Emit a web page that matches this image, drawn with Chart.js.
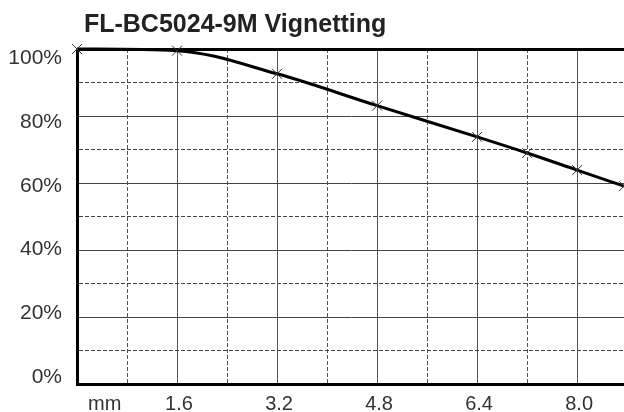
<!DOCTYPE html>
<html>
<head>
<meta charset="utf-8">
<title>FL-BC5024-9M Vignetting</title>
<script src="https://cdn.jsdelivr.net/npm/chart.js@4/dist/chart.umd.min.js"></script>
<style>
body { margin: 0; background: #fff; }
</style>
</head>
<body>
<canvas id="vignetteChart" width="624" height="412"></canvas>
<script>
var chartTitle = "FL-BC5024-9M Vignetting";

// image height (mm) against relative illumination (%)
var imageHeight = [0, 1.6, 3.2, 4.8, 6.4, 7.2, 8.0, 8.75];
var illumination = [100, 99.5, 92.6, 83.1, 73.8, 69.0, 63.9, 59.1];

var xTicks = [0.41, 0.8, 1.6, 2.4, 3.2, 4.0, 4.8, 5.6, 6.4, 7.2, 8.0];
var xTickLabels = ["mm", "", "1.6", "", "3.2", "", "4.8", "", "6.4", "", "8.0"];
var xDashed = [0.8, 2.4, 4.0, 5.6, 7.2];

var yTicks = [0, 10, 20, 30, 40, 50, 60, 70, 80, 90, 100];
var yDashed = [10, 30, 50, 70, 90];
var yLabelValues = [0, 20, 40, 60, 80, 100];
var yTickLabels = ["0%", "20%", "40%", "60%", "80%", "100%"];

var fontFamily = "'Liberation Sans', Arial, Helvetica, sans-serif";

function toTicks(list) {
    return list.map(function (v) { return { value: v }; });
}

function drawChart() {
    var points = [];
    for (var i = 0; i < imageHeight.length; i++) {
        points.push({ x: imageHeight[i], y: illumination[i] });
    }

    var ctx = document.getElementById("vignetteChart").getContext("2d");

    var vignetteChart = new Chart(ctx, {
        type: "line",
        data: {
            datasets: [{
                data: points,
                borderColor: "#000",
                borderWidth: 3,
                cubicInterpolationMode: "monotone",
                pointStyle: "crossRot",
                pointRadius: 7,
                pointBorderWidth: 1,
                pointBorderColor: "#333",
                pointBackgroundColor: "#333",
                clip: false
            }]
        },
        options: {
            responsive: false,
            animation: false,
            layout: { padding: 0, autoPadding: false },
            plugins: {
                legend: { display: false },
                tooltip: { enabled: false },
                title: {
                    display: true,
                    text: " " + chartTitle,
                    align: "start",
                    fullSize: false,
                    color: "#222",
                    font: { family: fontFamily, size: 25, weight: "bold" },
                    padding: { top: 10, bottom: 9 }
                }
            },
            scales: {
                x: {
                    type: "linear",
                    min: 0,
                    max: 8.75,
                    afterBuildTicks: function (axis) { axis.ticks = toTicks(xTicks); },
                    afterFit: function (axis) { axis.height = 26; },
                    ticks: {
                        autoSkip: false,
                        maxRotation: 0,
                        padding: 8,
                        labelOffset: 2,
                        color: "#333",
                        font: { family: fontFamily, size: 20 },
                        callback: function (value, index) { return xTickLabels[index]; }
                    },
                    grid: {
                        drawTicks: false,
                        lineWidth: 1,
                        color: function (c) {
                            if (c.tick && c.tick.value === xTicks[0]) return "rgba(0,0,0,0)";
                            return "#555";
                        }
                    },
                    border: {
                        display: true,
                        width: 3,
                        color: "#000",
                        dash: function (c) {
                            return c.tick && xDashed.indexOf(c.tick.value) >= 0 ? [4, 2] : [];
                        }
                    }
                },
                y: {
                    type: "linear",
                    position: "left",
                    weight: 0,
                    min: 0,
                    max: 100,
                    afterBuildTicks: function (axis) { axis.ticks = toTicks(yTicks); },
                    afterFit: function (axis) { axis.width = 0; },
                    ticks: { display: false },
                    grid: {
                        drawTicks: false,
                        lineWidth: function (c) { return c.tick && c.tick.value === 100 ? 3 : 1; },
                        color: function (c) { return c.tick && c.tick.value === 100 ? "#000" : "#444"; }
                    },
                    border: {
                        display: true,
                        width: 3,
                        color: "#000",
                        dash: function (c) {
                            return c.tick && yDashed.indexOf(c.tick.value) >= 0 ? [4, 2] : [];
                        }
                    }
                },
                // labels of the y axis sit on a slightly different spacing than the grid
                yLabels: {
                    type: "linear",
                    position: "left",
                    weight: 1,
                    min: -2.18,
                    max: 102.81,
                    afterBuildTicks: function (axis) { axis.ticks = toTicks(yLabelValues); },
                    afterFit: function (axis) { axis.width = 77; },
                    ticks: {
                        padding: 15,
                        color: "#333",
                        font: { family: fontFamily, size: 21 },
                        callback: function (value, index) { return yTickLabels[index]; }
                    },
                    grid: { display: false, drawTicks: false },
                    border: { display: false }
                }
            }
        }
    });
}

window.onload = drawChart;
</script>
</body>
</html>
